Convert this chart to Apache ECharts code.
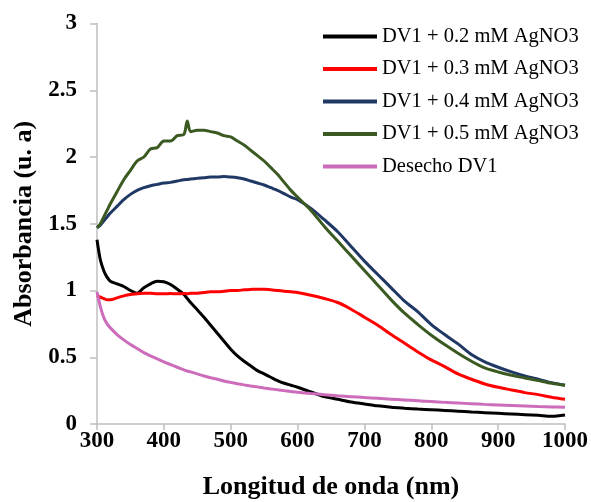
<!DOCTYPE html>
<html>
<head>
<meta charset="utf-8">
<script src="https://cdn.jsdelivr.net/npm/echarts@6/dist/echarts.min.js"></script>
<style>
html,body{margin:0;padding:0;background:#fff;}
#chart{width:591px;height:502px;}
</style>
</head>
<body>
<div id="chart"></div>
<script>
const wavelengths = [300,305,310,315,320,330,340,350,360,370,380,390,400,410,420,430,435,440,450,460,470,480,490,500,510,520,530,540,550,560,570,580,590,600,620,640,660,680,700,720,740,760,780,800,820,840,860,880,900,920,940,960,980,1000];

const dv1_02 = [1.38,1.23,1.15,1.10,1.07,1.05,1.03,1.00,0.98,1.02,1.05,1.07,1.065,1.045,1.01,0.97,0.94,0.91,0.855,0.80,0.74,0.68,0.62,0.56,0.51,0.47,0.435,0.40,0.375,0.35,0.325,0.305,0.29,0.275,0.24,0.205,0.185,0.165,0.15,0.136,0.125,0.118,0.112,0.107,0.102,0.096,0.09,0.085,0.08,0.075,0.07,0.065,0.058,0.068];

const dv1_03 = [0.965,0.95,0.94,0.93,0.93,0.945,0.96,0.97,0.975,0.98,0.98,0.975,0.975,0.978,0.975,0.978,0.976,0.98,0.98,0.985,0.99,0.99,0.995,1.0,1.0,1.005,1.008,1.01,1.01,1.005,1.0,0.995,0.99,0.985,0.965,0.94,0.91,0.86,0.80,0.74,0.67,0.605,0.54,0.48,0.43,0.375,0.335,0.30,0.275,0.255,0.235,0.22,0.20,0.185];

const dv1_04 = [1.47,1.49,1.52,1.55,1.58,1.63,1.68,1.72,1.75,1.77,1.785,1.795,1.805,1.81,1.82,1.83,1.832,1.835,1.84,1.845,1.85,1.85,1.853,1.85,1.845,1.835,1.82,1.805,1.79,1.77,1.75,1.725,1.70,1.68,1.615,1.53,1.44,1.33,1.22,1.12,1.02,0.92,0.84,0.745,0.67,0.60,0.52,0.465,0.425,0.39,0.36,0.335,0.31,0.29];

const dv1_05 = [1.47,1.50,1.55,1.60,1.65,1.74,1.83,1.90,1.97,2.00,2.06,2.07,2.12,2.12,2.16,2.17,2.27,2.19,2.20,2.20,2.19,2.18,2.16,2.15,2.12,2.09,2.05,2.01,1.97,1.92,1.87,1.81,1.75,1.70,1.60,1.48,1.37,1.26,1.15,1.04,0.93,0.83,0.745,0.665,0.595,0.53,0.47,0.42,0.39,0.365,0.345,0.325,0.305,0.29];

const desecho = [0.99,0.88,0.80,0.75,0.72,0.67,0.63,0.595,0.565,0.535,0.51,0.487,0.465,0.445,0.425,0.405,0.397,0.39,0.375,0.36,0.347,0.335,0.322,0.312,0.302,0.293,0.285,0.278,0.27,0.263,0.256,0.25,0.243,0.238,0.228,0.22,0.212,0.205,0.198,0.192,0.186,0.18,0.174,0.168,0.162,0.157,0.152,0.147,0.143,0.139,0.135,0.131,0.128,0.125];

const seriesNames = ['DV1 + 0.2 mM AgNO3','DV1 + 0.3 mM AgNO3','DV1 + 0.4 mM AgNO3','DV1 + 0.5 mM AgNO3','Desecho DV1'];
const seriesValues = [dv1_02, dv1_03, dv1_04, dv1_05, desecho];
const seriesColors = ['#000000','#ff0000','#203864','#3b5a22','#cc6cbb'];

const xTicks = [300,400,500,600,700,800,900,1000];
const yTicks = [0,0.5,1,1.5,2,2.5,3];

const FONT = '"Liberation Serif","Times New Roman",serif';
const chart = echarts.init(document.getElementById('chart'));

chart.setOption({
  animation: false,
  backgroundColor: '#ffffff',
  grid: {left: 97, right: 26, top: 23.5, bottom: 78, containLabel: false, outerBoundsMode: 'none'},
  legend: {
    orient: 'vertical',
    left: 318,
    top: 20.5,
    itemWidth: 54,
    itemHeight: 4,
    itemGap: 10.5,
    icon: 'rect',
    textStyle: {fontFamily: FONT, fontSize: 20.5, lineHeight: 22, color: '#000'},
    data: seriesNames.map((n, i) => ({name: n, itemStyle: {color: seriesColors[i]}}))
  },
  xAxis: {
    type: 'value',
    min: xTicks[0], max: xTicks[xTicks.length-1], interval: 100,
    name: 'Longitud de onda (nm)',
    nameLocation: 'middle', nameGap: 50,
    nameTextStyle: {fontFamily: FONT, fontSize: 26, fontWeight: 'bold', color: '#000'},
    axisLine: {lineStyle: {color: '#bfbfbf', width: 1.5}},
    axisTick: {show: true, length: 6, lineStyle: {color: '#bfbfbf', width: 1.5}},
    axisLabel: {fontFamily: FONT, fontSize: 23, fontWeight: 'bold', color: '#000', margin: 6,
      formatter: v => String(v)},
    splitLine: {show: false}
  },
  yAxis: {
    type: 'value',
    min: yTicks[0], max: yTicks[yTicks.length-1], interval: 0.5,
    name: 'Absorbancia (u. a)',
    nameLocation: 'middle', nameGap: 52, nameRotate: 90,
    nameTextStyle: {fontFamily: FONT, fontSize: 26, fontWeight: 'bold', color: '#000'},
    axisLine: {show: true, lineStyle: {color: '#bfbfbf', width: 1.5}},
    axisTick: {show: true, length: 7, lineStyle: {color: '#bfbfbf', width: 1.5}},
    axisLabel: {fontFamily: FONT, fontSize: 23, fontWeight: 'bold', color: '#000', margin: 20,
      formatter: v => String(v)},
    splitLine: {show: false}
  },
  series: seriesNames.map((n, i) => ({
    name: n,
    type: 'line',
    symbol: 'none',
    smooth: 0.3,
    data: wavelengths.map((w, j) => [w, seriesValues[i][j]]),
    lineStyle: {color: seriesColors[i], width: 3},
    itemStyle: {color: seriesColors[i]}
  }))
});
</script>
</body>
</html>
